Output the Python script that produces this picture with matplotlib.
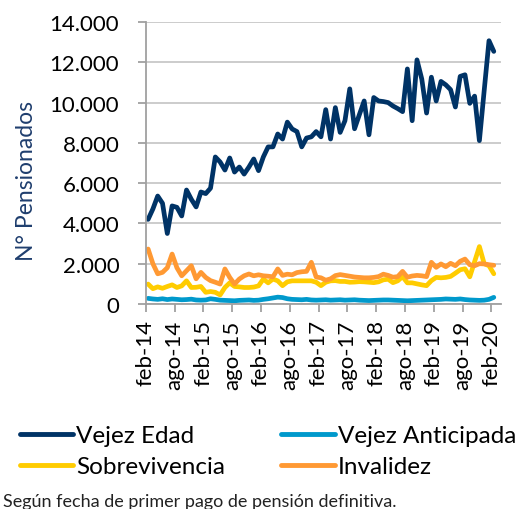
import matplotlib
matplotlib.use("Agg")
import matplotlib.pyplot as plt
import numpy as np
from matplotlib.ticker import FuncFormatter

months = ["ene", "feb", "mar", "abr", "may", "jun", "jul", "ago", "sep", "oct", "nov", "dic"]
dates = []
y, m = 2014, 1
for _ in range(73):
    dates.append(f"{months[m]}-{str(y)[2:]}")
    m += 1
    if m == 12:
        m = 0
        y += 1

vejez_edad = [4200, 4720, 5360, 5000, 3500, 4870, 4800, 4370, 5660, 5200,
              4820, 5560, 5480, 5750, 7300, 7050, 6650, 7250, 6550, 6800,
              6450, 6800, 7200, 6620, 7300, 7800, 7800, 8440, 8190, 9030,
              8690, 8560, 7800, 8240, 8300, 8560, 8300, 9650, 8190, 9750,
              8520, 9100, 10680, 8700, 9400, 10080, 8400, 10250, 10080, 10050,
              10000, 9830, 9700, 9550, 11670, 9100, 12120, 11170, 9480, 11260,
              10080, 11050, 10880, 10640, 9780, 11300, 11380, 9960, 10320, 8110,
              10600, 13070, 12540]

vejez_anticipada = [280, 250, 230, 260, 220, 250, 230, 210, 220, 240,
                    200, 190, 200, 260, 230, 190, 180, 170, 160, 180,
                    190, 200, 180, 190, 230, 260, 300, 340, 320, 260,
                    230, 220, 210, 230, 200, 190, 200, 210, 190, 200,
                    210, 190, 200, 210, 190, 180, 170, 180, 190, 200,
                    200, 190, 180, 170, 160, 170, 180, 190, 200, 210,
                    220, 230, 250, 240, 230, 250, 220, 200, 190, 180,
                    190, 230, 330]

sobrevivencia = [990, 760, 850, 780, 870, 950, 820, 900, 1150, 820,
                 830, 870, 580, 620, 580, 450, 820, 1050, 870, 850,
                 820, 820, 840, 900, 1240, 1050, 1240, 1150, 910, 1100,
                 1150, 1150, 1150, 1150, 1150, 1080, 910, 1080, 1150, 1160,
                 1120, 1120, 1080, 1090, 1110, 1100, 1080, 1060, 1100, 1200,
                 1230, 1060, 1150, 1360, 1050, 1050, 1000, 950, 910, 1160,
                 1320, 1300, 1320, 1370, 1530, 1700, 1750, 1350, 2100, 2850,
                 2000, 1900, 1500]

invalidez = [2730, 2000, 1500, 1570, 1800, 2480, 1800, 1400, 1650, 1900,
             1250, 1570, 1320, 1160, 1080, 990, 1740, 1320, 990, 1240,
             1400, 1490, 1400, 1450, 1400, 1380, 1350, 1740, 1420, 1480,
             1450, 1560, 1600, 1620, 2070, 1340, 1300, 1180, 1250, 1410,
             1460, 1420, 1380, 1340, 1320, 1300, 1300, 1320, 1360, 1480,
             1420, 1330, 1360, 1620, 1330, 1390, 1420, 1400, 1360, 2070,
             1820, 1990, 1850, 2020, 1900, 2120, 2230, 1950, 1900, 2000,
             1990, 1950, 1920]

series_names = ["Vejez Edad", "Vejez Anticipada", "Sobrevivencia", "Invalidez"]
colors = ["#003366", "#0099CC", "#FFCC00", "#FF9933"]
y_ticks = [0, 2000, 4000, 6000, 8000, 10000, 12000, 14000]

plt.rcParams['font.family'] = ['Lato', 'DejaVu Sans']

fig = plt.figure(figsize=(5.3, 5.1), dpi=100)
ax = fig.add_axes([145.7 / 530, 1 - 305 / 510, (501 - 145.7) / 530, (305 - 23) / 510])

x = np.arange(len(dates)) + 0.5
lines = []
for vals, name, c in zip([vejez_edad, vejez_anticipada, sobrevivencia, invalidez], series_names, colors):
    ln, = ax.plot(x, vals, color=c, lw=3.4, solid_joinstyle='round', solid_capstyle='round', label=name)
    lines.append(ln)

ax.set_xlim(0, 74)
ax.set_ylim(0, 14000)
ax.set_yticks(y_ticks)
ax.yaxis.set_major_formatter(FuncFormatter(lambda v, p: f"{int(v):,}".replace(",", ".")))
tick_pos = list(range(0, 73, 6))
ax.set_xticks(tick_pos)
ax.set_xticklabels([dates[i] for i in tick_pos], rotation=90)

ax.grid(axis='y', color='#c4c4c4', lw=1.2)
ax.set_axisbelow(True)
for s in ['top', 'right']:
    ax.spines[s].set_visible(False)
for s in ['left', 'bottom']:
    ax.spines[s].set_color('#a0a0a0')
    ax.spines[s].set_linewidth(1.3)
ax.tick_params(axis='both', direction='out', length=6, width=1.3, color='#a0a0a0', labelsize=16)
ax.tick_params(axis='y', pad=13)
ax.tick_params(axis='x', pad=5)

ax.set_ylabel("N° Pensionados", color='#1F3E6E', fontsize=16.5)
ax.yaxis.set_label_coords(-0.305, 0.44)

handles = [lines[0], lines[2], lines[1], lines[3]]
leg = fig.legend(handles=handles, labels=[h.get_label() for h in handles], ncol=2,
                 loc='upper left', bbox_to_anchor=(20 / 530, 1 - 426 / 510),
                 frameon=False, fontsize=17.5, handlelength=2.2, handletextpad=0.12,
                 columnspacing=2.3, borderpad=0, borderaxespad=0, labelspacing=0.42)
for lh in leg.get_lines():
    lh.set_linewidth(3.5)
    lh.set_solid_capstyle('round')

fig.text(3 / 530, 1 - 502 / 510, "Según fecha de primer pago de pensión definitiva.",
         fontsize=13, va='center', ha='left', color='#222222')

fig.savefig("out.png", dpi=100)
